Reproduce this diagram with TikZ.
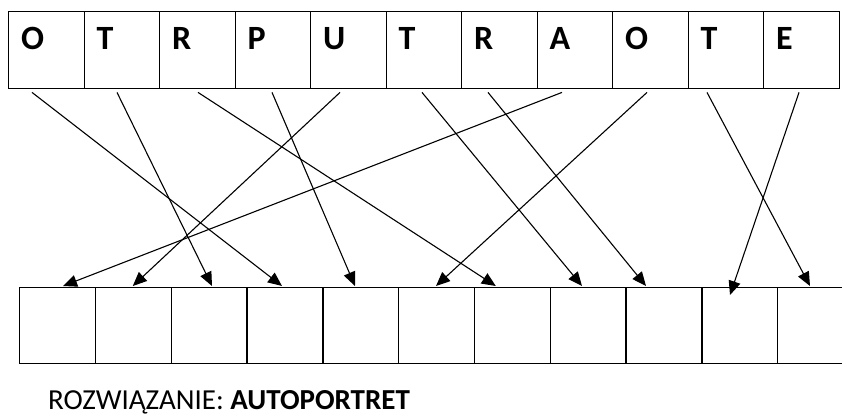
\documentclass[tikz,border=0pt]{standalone}
\usepackage{fontspec}
\setmainfont{Carlito}
\usetikzlibrary{arrows.meta,calc}
\begin{document}
\begin{tikzpicture}[x=1pt,y=-1pt,
  topcell/.style={draw,line width=1.4pt,minimum width=75.5pt,minimum height=77pt,inner sep=0pt,anchor=north west},
  botcell/.style={draw,line width=1.4pt,minimum width=75.8pt,minimum height=76pt,inner sep=0pt,anchor=north west},
  letter/.style={anchor=base west,inner sep=0pt,font=\fontsize{34}{38}\selectfont\bfseries},
  arr/.style={line width=1.1pt,-{Triangle[length=14pt,width=12pt]}}]
\clip (0,0) rectangle (842,416);
% top row
\foreach \i in {1,...,11} {
  \node[topcell] (t\i) at ({8+75.5*(\i-1)},11) {};
}
% bottom row
\foreach \j in {1,...,11} {
  \node[botcell] (b\j) at ({19+75.8*(\j-1)},287) {};
}
% letters
\node[letter] (l1) at ($(t1.north west)+(13,38)$) {O};
\node[letter] (l2) at ($(t2.north west)+(13,38)$) {T};
\node[letter] (l3) at ($(t3.north west)+(13,38)$) {R};
\node[letter] (l4) at ($(t4.north west)+(13,38)$) {P};
\node[letter] (l5) at ($(t5.north west)+(13,38)$) {U};
\node[letter] (l6) at ($(t6.north west)+(13,38)$) {T};
\node[letter] (l7) at ($(t7.north west)+(13,38)$) {R};
\node[letter] (l8) at ($(t8.north west)+(13,38)$) {A};
\node[letter] (l9) at ($(t9.north west)+(13,38)$) {O};
\node[letter] (l10) at ($(t10.north west)+(13,38)$) {T};
\node[letter] (l11) at ($(t11.north west)+(13,38)$) {E};
% arrows
\draw[arr] ([shift={(24,3)}]t1.south west) -- ([shift={(35.6,-1)}]b4.north west);
\draw[arr] ([shift={(33.5,3)}]t2.south west) -- ([shift={(41.4,-1)}]b3.north west);
\draw[arr] ([shift={(39,3)}]t3.south west) -- ([shift={(22,-1)}]b7.north west);
\draw[arr] ([shift={(37.5,3)}]t4.south west) -- ([shift={(32.8,-1)}]b5.north west);
\draw[arr] ([shift={(30,3)}]t5.south west) -- ([shift={(38,-1)}]b2.north west);
\draw[arr] ([shift={(36.5,3)}]t6.south west) -- ([shift={(32.4,-1)}]b8.north west);
\draw[arr] ([shift={(27,3)}]t7.south west) -- ([shift={(20.6,-1)}]b9.north west);
\draw[arr] ([shift={(25.5,3)}]t8.south west) -- ([shift={(44,-1)}]b1.north west);
\draw[arr] ([shift={(35,3)}]t9.south west) -- ([shift={(38,-1)}]b6.north west);
\draw[arr] ([shift={(19.5,3)}]t10.south west) -- ([shift={(33,-1)}]b11.north west);
\draw[arr] ([shift={(36,3)}]t11.south west) -- ([shift={(28.8,8)}]b10.north west);
% solution
\node[anchor=base west,inner sep=0pt,font=\fontsize{29}{33}\selectfont] (sol) at (48,409) {ROZWIĄZANIE: \textbf{AUTOPORTRET}};
\end{tikzpicture}
\end{document}
